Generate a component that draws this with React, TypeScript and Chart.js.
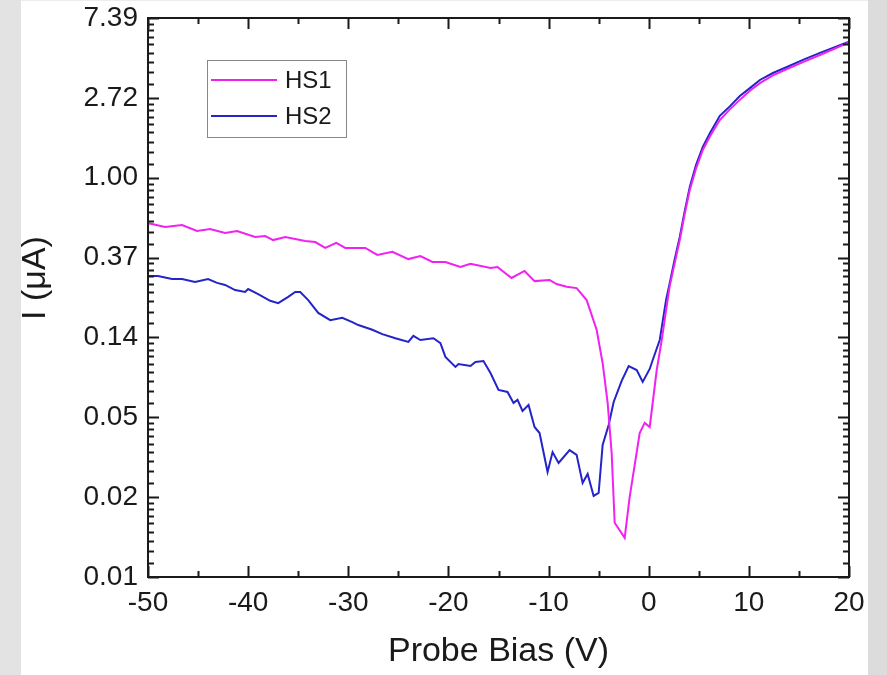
import React, { useEffect, useRef } from "react";
import { Chart, registerables } from "chart.js";

Chart.register(...registerables);

// Probe bias (V) and current (µA)
const HS1_V = [-50.0, -49.6, -48.3, -46.6, -45.1, -43.8, -42.3, -41.1, -39.3, -38.3, -37.5, -36.3, -34.3, -33.3, -32.3, -31.2, -30.3, -28.3, -27.1, -25.6, -24.0, -22.8, -21.6, -20.3, -18.8, -17.8, -15.8, -15.1, -13.7, -12.4, -11.4, -9.9, -9.2, -8.2, -7.2, -6.2, -5.2, -4.6, -4.1, -3.7, -3.4, -2.4, -1.9, -0.9, -0.4, 0.1, 0.8, 1.3, 1.73, 2.1, 2.58, 3.1, 3.58, 4.1, 4.72, 5.4, 6.12, 7.1, 8.12, 9.1, 10.1, 11.1, 12.4, 13.8, 15.4, 17.1, 20.0];
const HS1_I = [0.565, 0.56, 0.54, 0.553, 0.513, 0.526, 0.501, 0.513, 0.476, 0.482, 0.458, 0.476, 0.453, 0.447, 0.415, 0.442, 0.415, 0.415, 0.38, 0.395, 0.361, 0.375, 0.348, 0.348, 0.327, 0.34, 0.323, 0.327, 0.285, 0.311, 0.274, 0.278, 0.264, 0.255, 0.251, 0.216, 0.149, 0.098, 0.0596, 0.0318, 0.0133, 0.011, 0.0184, 0.0409, 0.0464, 0.0441, 0.09, 0.131, 0.19, 0.258, 0.34, 0.458, 0.63, 0.857, 1.12, 1.415, 1.68, 2.06, 2.36, 2.65, 2.97, 3.27, 3.6, 3.9, 4.25, 4.65, 5.45];

const HS2_V = [-50.0, -49.0, -47.6, -46.6, -45.3, -44.0, -43.1, -42.3, -41.3, -40.3, -40.0, -39.0, -37.8, -37.0, -36.0, -35.3, -34.8, -34.0, -33.0, -31.8, -30.6, -29.6, -29.0, -27.6, -26.6, -25.3, -24.0, -23.5, -22.8, -21.5, -20.8, -20.3, -19.3, -19.0, -17.8, -17.3, -16.5, -15.8, -15.0, -14.1, -13.5, -13.1, -12.6, -12.0, -11.4, -10.9, -10.1, -9.6, -9.0, -7.9, -7.2, -6.6, -6.1, -5.5, -5.0, -4.6, -4.0, -3.5, -2.7, -2.0, -1.2, -0.6, 0.1, 0.4, 1.1, 1.73, 2.1, 2.58, 3.1, 3.58, 4.1, 4.72, 5.4, 6.12, 7.1, 8.12, 9.1, 10.1, 11.1, 12.4, 13.8, 15.4, 17.1, 20.0];
const HS2_I = [0.292, 0.292, 0.281, 0.281, 0.271, 0.281, 0.268, 0.261, 0.245, 0.239, 0.248, 0.233, 0.214, 0.208, 0.225, 0.239, 0.239, 0.216, 0.184, 0.168, 0.173, 0.164, 0.158, 0.149, 0.141, 0.134, 0.128, 0.138, 0.131, 0.134, 0.126, 0.106, 0.0935, 0.097, 0.0946, 0.0995, 0.1008, 0.0867, 0.0701, 0.0684, 0.0596, 0.0619, 0.0539, 0.0581, 0.0441, 0.0409, 0.0251, 0.0322, 0.0281, 0.033, 0.0311, 0.0219, 0.0245, 0.0186, 0.0193, 0.0352, 0.0452, 0.0603, 0.0785, 0.0946, 0.09, 0.0775, 0.0912, 0.102, 0.131, 0.216, 0.268, 0.357, 0.476, 0.651, 0.89, 1.17, 1.47, 1.75, 2.17, 2.45, 2.78, 3.07, 3.4, 3.71, 4.0, 4.37, 4.77, 5.5];

const SERIES_LABELS = ["HS1", "HS2"];
const SERIES_COLORS = ["#f022f0", "#2424c8"];
const X_TICKS = [-50, -40, -30, -20, -10, 0, 10, 20];
const X_MINOR = [-45, -35, -25, -15, -5, 5, 15];
const Y_TICK_EXPONENTS = [-5, -4, -3, -2, -1, 0, 1, 2];
const Y_TICK_LABELS = ["0.01", "0.02", "0.05", "0.14", "0.37", "1.00", "2.72", "7.39"];
const X_TITLE = "Probe Bias (V)";
const Y_TITLE = "I (\u03bcA)";

const FONT = "'Liberation Sans', Arial, sans-serif";
const TEXT = "#1a1a1a";

const backgroundPlugin = {
  id: "bg",
  beforeDraw(chart: any) {
    const { ctx, width, height } = chart;
    ctx.save();
    ctx.fillStyle = "#e3e3e3";
    ctx.fillRect(0, 0, 21, height);
    ctx.fillStyle = "#dcdcdc";
    ctx.fillRect(868, 0, width - 868, height);
    ctx.fillStyle = "#ececec";
    ctx.fillRect(21, 0, 847, 1);
    ctx.fillStyle = "#ffffff";
    ctx.fillRect(21, 1, 847, height - 1);
    ctx.restore();
  },
};

const framePlugin = {
  id: "frame",
  afterDraw(chart: any) {
    const { ctx, chartArea: a, scales } = chart;
    const xs = scales.x;
    const ys = scales.y;
    ctx.save();
    ctx.strokeStyle = "#1a1a1a";
    ctx.lineWidth = 2;
    ctx.strokeRect(a.left, a.top, a.right - a.left, a.bottom - a.top);
    ctx.beginPath();
    const tickX = (v: number, len: number) => {
      const p = Math.round(xs.getPixelForValue(v)) + 0.5;
      ctx.moveTo(p, a.bottom);
      ctx.lineTo(p, a.bottom - len);
      ctx.moveTo(p, a.top);
      ctx.lineTo(p, a.top + len);
    };
    const tickY = (v: number, len: number) => {
      const p = Math.round(ys.getPixelForValue(v)) + 0.5;
      ctx.moveTo(a.left, p);
      ctx.lineTo(a.left + len, p);
      ctx.moveTo(a.right, p);
      ctx.lineTo(a.right - len, p);
    };
    X_TICKS.forEach((v) => tickX(v, 11));
    X_MINOR.forEach((v) => tickX(v, 6));
    Y_TICK_EXPONENTS.forEach((k) => tickY(Math.exp(k), 11));
    for (let i = 0; i < Y_TICK_EXPONENTS.length - 1; i++) {
      const lo = Math.exp(Y_TICK_EXPONENTS[i]);
      const hi = Math.exp(Y_TICK_EXPONENTS[i + 1]);
      for (let j = 1; j < 9; j++) tickY(lo + ((hi - lo) * j) / 9, 6);
    }
    ctx.stroke();

    // y-axis title
    ctx.fillStyle = TEXT;
    ctx.font = `34px ${FONT}`;
    ctx.textAlign = "center";
    ctx.textBaseline = "middle";
    ctx.save();
    ctx.translate(36, 278);
    ctx.rotate(-Math.PI / 2);
    ctx.fillText(Y_TITLE, 0, 0);
    ctx.restore();

    // legend
    ctx.lineWidth = 1;
    ctx.strokeStyle = "#888888";
    ctx.fillStyle = "#ffffff";
    const lx = a.left + 59.5;
    const ly = a.top + 42.5;
    ctx.fillRect(lx, ly, 139, 77);
    ctx.strokeRect(lx, ly, 139, 77);
    ctx.font = `24px ${FONT}`;
    ctx.textBaseline = "middle";
    ctx.textAlign = "left";
    SERIES_LABELS.forEach((lab, i) => {
      const y = a.top + 62 + i * 36;
      ctx.strokeStyle = SERIES_COLORS[i];
      ctx.lineWidth = 2;
      ctx.beginPath();
      ctx.moveTo(a.left + 63, y);
      ctx.lineTo(a.left + 129, y);
      ctx.stroke();
      ctx.fillStyle = TEXT;
      ctx.fillText(lab, a.left + 137, y + 1);
    });
    ctx.restore();
  },
};

export default function App() {
  const ref = useRef<HTMLCanvasElement | null>(null);
  useEffect(() => {
    if (!ref.current) return;
    const mk = (v: number[], c: number[]) => v.map((x, i) => ({ x, y: c[i] }));
    const chart = new Chart(ref.current, {
      type: "line",
      data: {
        datasets: [
          { label: SERIES_LABELS[0], data: mk(HS1_V, HS1_I), borderColor: SERIES_COLORS[0], borderWidth: 2, pointRadius: 0, tension: 0, fill: false },
          { label: SERIES_LABELS[1], data: mk(HS2_V, HS2_I), borderColor: SERIES_COLORS[1], borderWidth: 2, pointRadius: 0, tension: 0, fill: false },
        ],
      },
      options: {
        animation: false,
        responsive: true,
        maintainAspectRatio: false,
        layout: { padding: { left: 0, right: 38, top: 18, bottom: 0 } },
        plugins: { legend: { display: false }, tooltip: { enabled: false } },
        scales: {
          x: {
            type: "linear",
            min: -50,
            max: 20,
            grid: { display: false, drawTicks: false },
            border: { display: false },
            afterBuildTicks: (s: any) => {
              s.ticks = X_TICKS.map((v) => ({ value: v }));
            },
            afterFit: (s: any) => {
              s.height = 98;
              s.paddingLeft = 0;
              s.paddingRight = 0;
            },
            ticks: { autoSkip: false, maxRotation: 0, padding: 9, color: TEXT, font: { family: FONT, size: 28 } },
            title: { display: true, text: X_TITLE, color: TEXT, font: { family: FONT, size: 34 }, padding: { top: 0, bottom: 3 } },
          },
          y: {
            type: "logarithmic",
            min: Math.exp(-5),
            max: Math.exp(2),
            grid: { display: false, drawTicks: false },
            border: { display: false },
            afterBuildTicks: (s: any) => {
              s.ticks = Y_TICK_EXPONENTS.map((k) => ({ value: Math.exp(k) }));
            },
            afterFit: (s: any) => {
              s.width = 148;
              s.paddingTop = 0;
              s.paddingBottom = 0;
            },
            ticks: {
              autoSkip: false,
              padding: 10,
              color: TEXT,
              font: { family: FONT, size: 28 },
              callback: (v: any) => Y_TICK_LABELS[Y_TICK_EXPONENTS.indexOf(Math.round(Math.log(Number(v))))],
            },
            title: { display: false, text: Y_TITLE },
          },
        },
      },
      plugins: [backgroundPlugin, framePlugin],
    } as any);
    return () => chart.destroy();
  }, []);
  return (
    <div style={{ position: "absolute", left: 0, top: 0, width: 887, height: 675 }}>
      <canvas ref={ref} width={887} height={675} />
    </div>
  );
}
